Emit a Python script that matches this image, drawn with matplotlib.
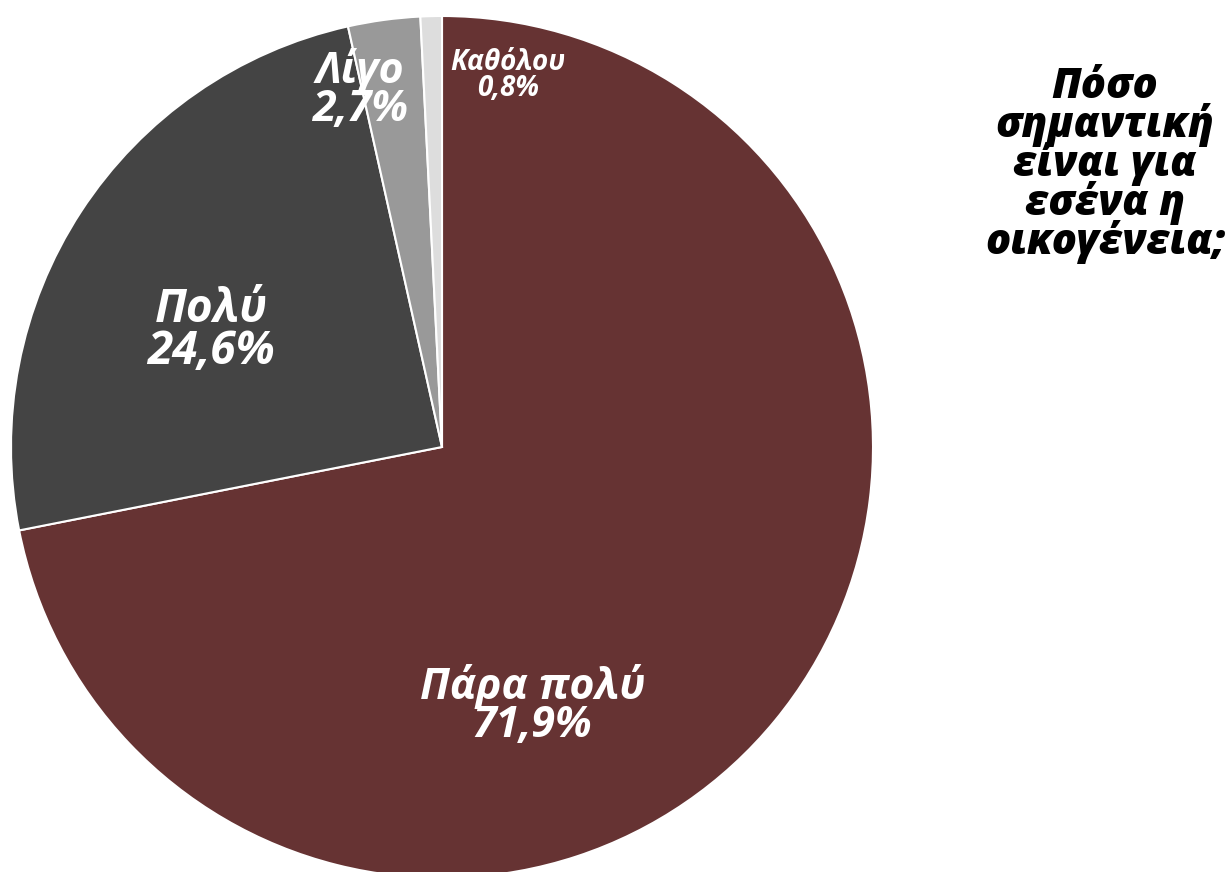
import matplotlib
matplotlib.use("Agg")
import matplotlib.pyplot as plt

# -----------------------------
# Data
# -----------------------------
labels = ["Πάρα πολύ", "Πολύ", "Λίγο", "Καθόλου"]
values = [71.9, 24.6, 2.7, 0.8]
colors = ["#663333", "#444444", "#999999", "#dddddd"]
title = "Πόσο\nσημαντική\nείναι για\nεσένα η\nοικογένεια;"

# label positions inside the pie (radius units) and font sizes
label_pos = [(0.21, -0.60), (-0.535, 0.27), (-0.19, 0.83), (0.153, 0.862)]
label_size = [31, 33, 31, 20]

plt.rcParams["font.family"] = ["Open Sans", "DejaVu Sans"]

W, H = 1226, 872
fig = plt.figure(figsize=(W / 100, H / 100), dpi=100)

# pie centre at (442, 447) px, radius 431 px
cx, cy, r = 442, 447, 431
ax = fig.add_axes([(cx - r) / W, (H - cy - r) / H, 2 * r / W, 2 * r / H])
ax.pie(values, colors=colors, startangle=90, counterclock=False, radius=1,
       wedgeprops=dict(edgecolor="white", linewidth=1.5))
ax.set_xlim(-1, 1)
ax.set_ylim(-1, 1)
ax.set_aspect("equal")
ax.axis("off")

for lab, val, (x, y), fs in zip(labels, values, label_pos, label_size):
    txt = f"{lab}\n{val:.1f}%".replace(".", ",")
    ax.text(x, y, txt, ha="center", va="center", color="white", fontsize=fs,
            fontweight="bold", fontstyle="italic", linespacing=0.85)

fig.text(1105 / W, 1 - 165 / H, title, ha="center", va="center", fontsize=30,
         fontweight="heavy", fontstyle="italic", linespacing=0.85)

fig.savefig("out.png", dpi=100)
